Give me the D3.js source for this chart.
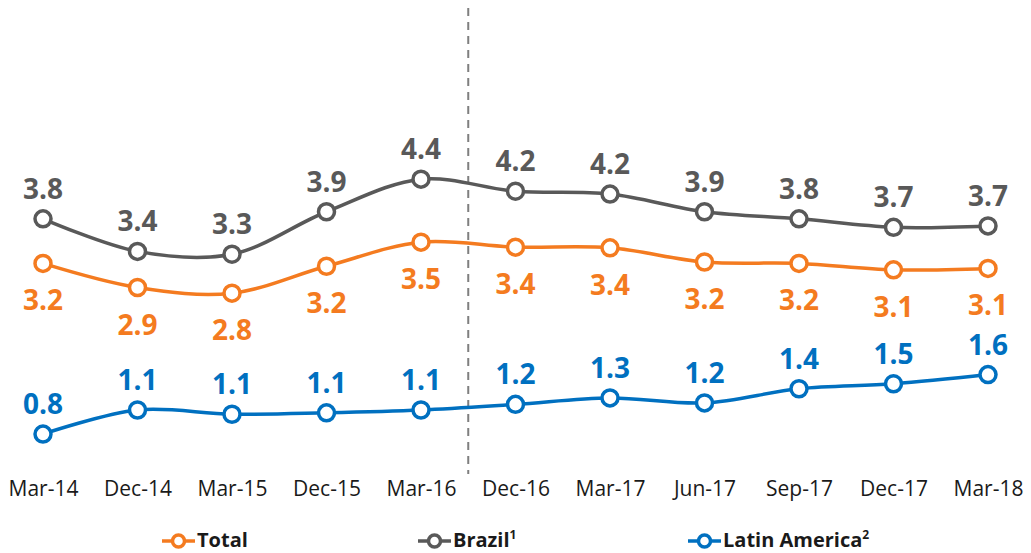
<!DOCTYPE html>
<html>
<head>
<meta charset="utf-8">
<script src="https://cdn.jsdelivr.net/npm/d3@7"></script>
<style>
  html, body { margin: 0; padding: 0; background: #fff; }
  #canvas { width: 1031px; height: 553px; }
  .axis text { font-family: "Open Sans", sans-serif; font-size: 21px; fill: #1a1a1a; }
  .axis path, .axis line { display: none; }
  .lbl { font-family: "Open Sans", sans-serif; font-weight: bold; font-size: 28px; }
  .legend text { font-family: "Open Sans", sans-serif; font-weight: bold; font-size: 20px; fill: #1a1a1a; }
</style>
</head>
<body>
<div id="canvas"></div>
<script>
  var periods = ["Mar-14", "Dec-14", "Mar-15", "Dec-15", "Mar-16", "Dec-16", "Mar-17", "Jun-17", "Sep-17", "Dec-17", "Mar-18"];
  var brazil = [3.84, 3.38, 3.34, 3.94, 4.40, 4.23, 4.19, 3.94, 3.84, 3.72, 3.74];
  var total = [3.21, 2.87, 2.79, 3.17, 3.51, 3.44, 3.43, 3.23, 3.21, 3.12, 3.14];
  var latam = [0.80, 1.14, 1.08, 1.10, 1.14, 1.22, 1.31, 1.24, 1.44, 1.51, 1.64];
  var seriesNames = ["Total", "Brazil", "Latin America"];
  var seriesSup = ["", "1", "2"];

  function draw() {
    var canvas = d3.select("#canvas");
    var width = 1031, height = 553;

    var svg = canvas.append("svg")
        .attr("width", width)
        .attr("height", height);

    var x = d3.scalePoint()
        .domain(periods)
        .range([43, 988]);

    var y = d3.scaleLinear()
        .domain([0, 5])
        .range([490.7, 136.7]);

    // x axis labels only
    svg.append("g")
        .attr("class", "axis")
        .attr("transform", "translate(0,481)")
        .call(d3.axisBottom(x).tickSize(0).tickPadding(0));

    // separator between Mar-16 and Dec-16
    var sepX = (x("Mar-16") + x("Dec-16")) / 2;
    svg.append("line")
        .attr("x1", sepX).attr("x2", sepX)
        .attr("y1", 8).attr("y2", 474)
        .attr("stroke", "#7f7f7f")
        .attr("stroke-width", 2)
        .attr("stroke-dasharray", "8 6");

    var series = [
      { values: total, color: "#F47B20", above: false },
      { values: brazil, color: "#595959", above: true },
      { values: latam, color: "#0070C0", above: true }
    ];

    var line = d3.line()
        .x(function(d, i){ return x(periods[i]); })
        .y(function(d){ return y(d); })
        .curve(d3.curveCatmullRom.alpha(0.5));

    var fmt = d3.format(".1f");

    series.forEach(function(s){
      var g = svg.append("g");
      g.append("path")
          .attr("d", line(s.values))
          .attr("fill", "none")
          .attr("stroke", s.color)
          .attr("stroke-width", 3.5);
      g.selectAll("circle")
          .data(s.values)
        .enter().append("circle")
          .attr("cx", function(d, i){ return x(periods[i]); })
          .attr("cy", function(d){ return y(d); })
          .attr("r", 8)
          .attr("fill", "#fff")
          .attr("stroke", s.color)
          .attr("stroke-width", 3.5);
      g.selectAll("text")
          .data(s.values)
        .enter().append("text")
          .attr("class", "lbl")
          .attr("x", function(d, i){ return x(periods[i]); })
          .attr("y", function(d){ return s.above ? y(d) - 20 : y(d) + 47; })
          .attr("text-anchor", "middle")
          .attr("fill", s.color)
          .text(function(d){ return fmt(d); });
    });

    // Legend
    var legendX = [162, 418, 688];
    var legend = svg.append("g").attr("class", "legend");
    series.forEach(function(s, i){
      var lg = legend.append("g").attr("transform", "translate(" + legendX[i] + ",541)");
      lg.append("line")
          .attr("x1", 0).attr("x2", 33)
          .attr("stroke", s.color).attr("stroke-width", 3.5);
      lg.append("circle")
          .attr("cx", 16.5).attr("r", 6)
          .attr("fill", "#fff")
          .attr("stroke", s.color).attr("stroke-width", 3.5);
      var t = lg.append("text").attr("x", 35).attr("y", 6);
      t.append("tspan").text(seriesNames[i]);
      if (seriesSup[i]) {
        t.append("tspan")
            .attr("dy", -8)
            .attr("font-size", "12px")
            .text(seriesSup[i]);
      }
    });
  }

  draw();
</script>
</body>
</html>
